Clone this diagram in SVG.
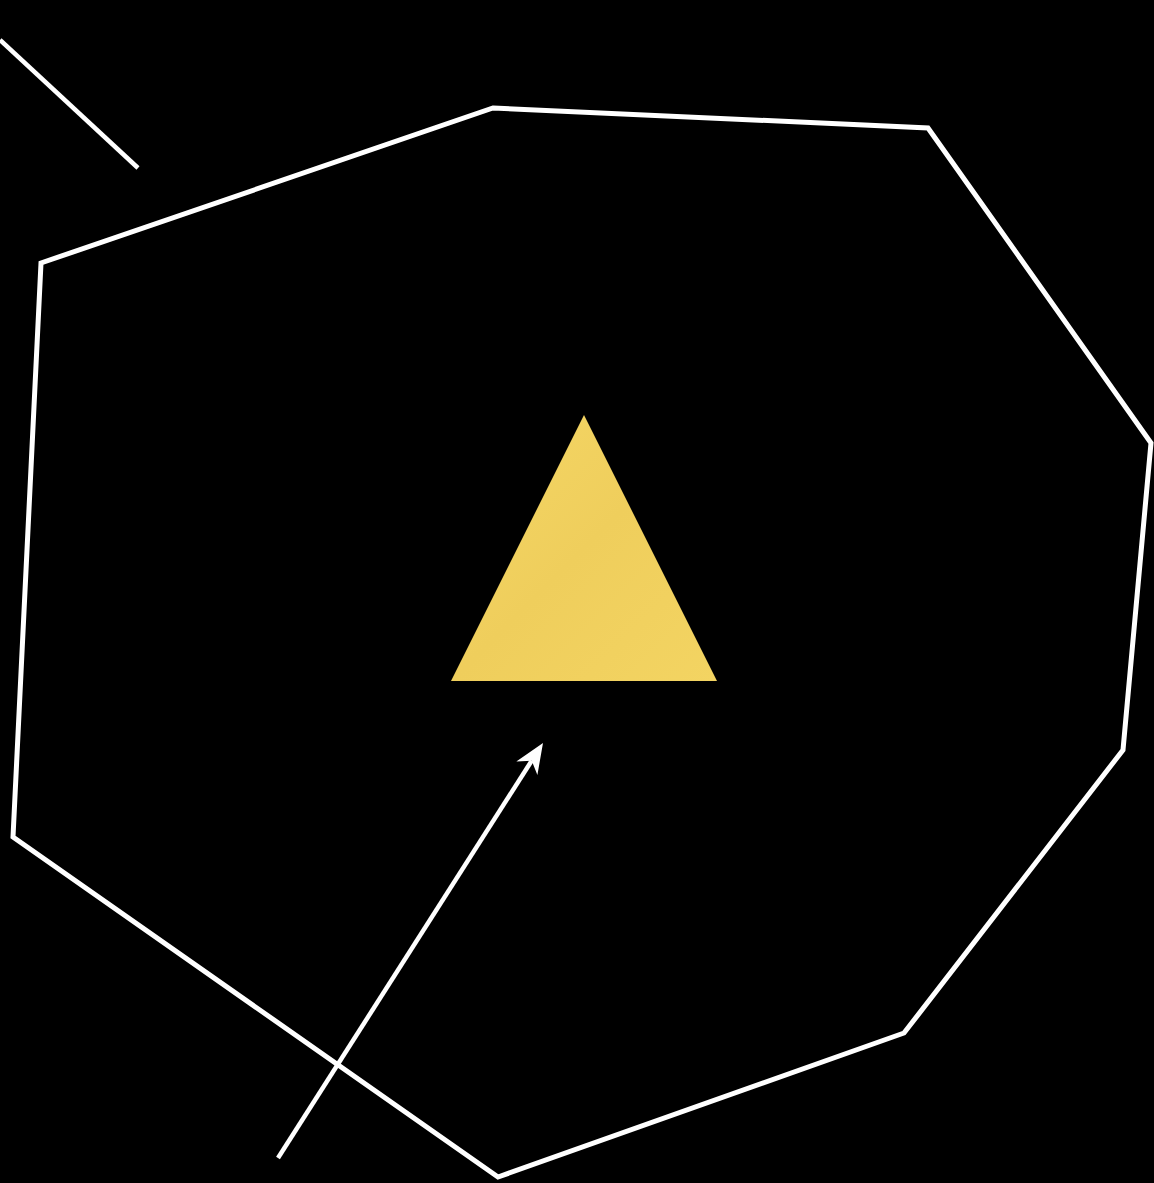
<svg xmlns="http://www.w3.org/2000/svg" width="1154" height="1183" viewBox="0 0 1154 1183">
  <style>
    .edge { stroke: #ffffff; fill: none; stroke-linecap: butt; }
  </style>
  <defs>
    <marker id="arrow" viewBox="-10 -14 34 28" refX="0" refY="0" markerWidth="34" markerHeight="28" markerUnits="userSpaceOnUse" orient="auto">
      <path d="M21,0 L-9,-12.5 L0,0 L-9,12.5 Z" fill="#ffffff"/>
    </marker>
    <linearGradient id="gold" x1="0" y1="0" x2="1" y2="1">
      <stop offset="0" stop-color="#f5d766"/>
      <stop offset="0.5" stop-color="#efce5c"/>
      <stop offset="1" stop-color="#f3d462"/>
    </linearGradient>
  </defs>
  <rect width="1154" height="1183" fill="#000000"/>
  <g id="outline">
    <polygon class="edge" stroke-width="5" stroke-linejoin="miter" points="493,108 928,128 1151,443 1123,750 904,1033 498,1177 13,837 41,263"/>
  </g>
  <g id="triangle">
    <polygon points="584,415 451,681 717,681" fill="url(#gold)"/>
  </g>
  <g id="connectors">
    <line class="edge" stroke-width="4.5" x1="0" y1="40" x2="138" y2="168"/>
    <line class="edge" stroke-width="4.5" x1="278" y1="1158" x2="531.7" y2="760.7" marker-end="url(#arrow)"/>
  </g>
</svg>
